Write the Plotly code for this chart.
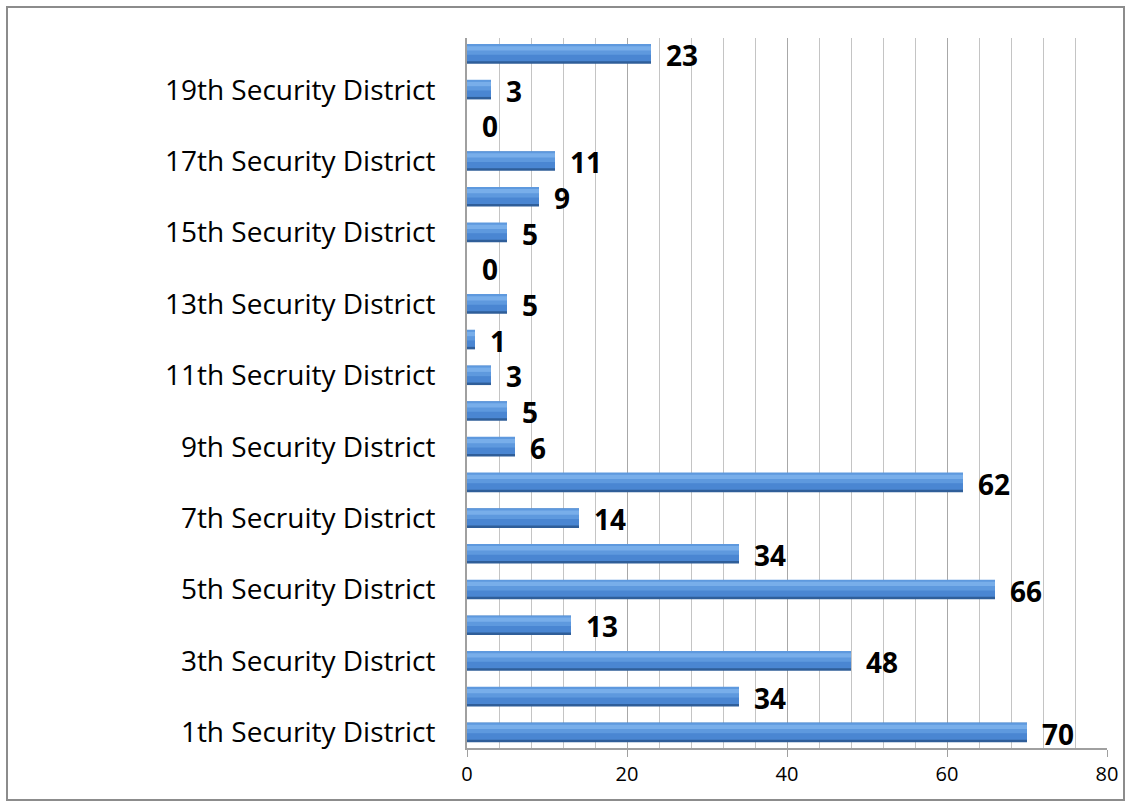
import plotly.graph_objects as go

# Incidents per security district (district 1 at the bottom)
districts = [
    "1th Security District", "2th Security District", "3th Security District",
    "4th Security District", "5th Security District", "6th Security District",
    "7th Secruity District", "8th Security District", "9th Security District",
    "10th Security District", "11th Secruity District", "12th Security District",
    "13th Security District", "14th Security District", "15th Security District",
    "16th Security District", "17th Security District", "18th Security District",
    "19th Security District", "20th Security District",
]
counts = [70, 34, 48, 13, 66, 34, 14, 62, 6, 5, 3, 1, 5, 0, 5, 9, 11, 0, 3, 23]
x_ticks = [0, 20, 40, 60, 80]

positions = list(range(len(districts)))
shown_ticks = positions[::2]
shown_labels = districts[::2]

FONT = "Open Sans, Lato, sans-serif"

fig = go.Figure()

# layered bars give the bevelled look: dark edge, body, light upper band
layers = [
    ("#2F5E99", 0.54, -0.27),
    ("#4A86D2", 0.46, -0.20),
    ("#5E99DE", 0.30, -0.02),
    ("#78AEEA", 0.12, 0.10),
]
for color, width, offset in layers:
    fig.add_trace(go.Bar(
        x=counts, y=positions, orientation="h",
        width=width, offset=offset,
        marker=dict(color=color, line=dict(width=0)),
        hoverinfo="skip", showlegend=False,
    ))

for pos, val in zip(positions, counts):
    fig.add_annotation(
        x=val, y=pos, text=f"<b>{val}</b>", showarrow=False,
        xanchor="left", yanchor="middle", xshift=13, yshift=-1,
        font=dict(family=FONT, size=28, color="black"),
    )

# outer frame around the whole chart
fig.add_shape(
    type="rect", xref="paper", yref="paper",
    x0=-0.71875, x1=1.02656, y0=-0.0732, y1=1.0437,
    line=dict(color="#8C8C8C", width=2), fillcolor="rgba(0,0,0,0)", layer="below",
)

fig.update_layout(
    width=1132, height=808,
    margin=dict(l=467, r=25, t=38, b=60),
    paper_bgcolor="white", plot_bgcolor="white",
    barmode="overlay",
    xaxis=dict(
        range=[0, 80], tickvals=x_ticks, ticktext=[str(v) for v in x_ticks],
        showgrid=True, gridcolor="#A8A8A8", gridwidth=1,
        minor=dict(dtick=4, tick0=0, showgrid=True, gridcolor="#C4C4C4", gridwidth=1),
        showline=True, linecolor="#A0A0A0", linewidth=2,
        ticks="outside", ticklen=7, tickcolor="#A0A0A0",
        tickfont=dict(family=FONT, size=20, color="black"),
        zeroline=False, fixedrange=True,
    ),
    yaxis=dict(
        range=[-0.434, 19.45], tickvals=shown_ticks, ticktext=shown_labels,
        showgrid=False, showline=True, linecolor="#A0A0A0", linewidth=2,
        ticks="", ticklabelstandoff=24,
        tickfont=dict(family=FONT, size=28, color="black"),
        zeroline=False, fixedrange=True,
    ),
)

fig.write_html("out.html")
